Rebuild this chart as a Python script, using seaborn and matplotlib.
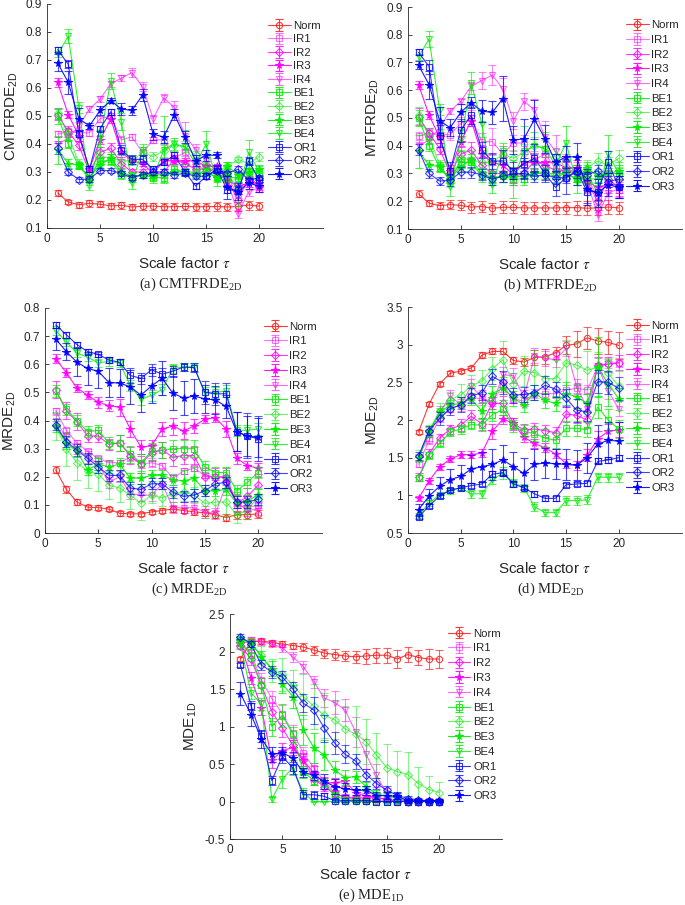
import numpy as np
import pandas as pd
import matplotlib
matplotlib.use("Agg")
import matplotlib.pyplot as plt
import seaborn as sns

sns.set_style("ticks")
plt.rcParams["font.family"] = ["Liberation Sans", "DejaVu Sans"]
plt.rcParams["mathtext.fontset"] = "stix"

# ---------------- data ----------------
scales = list(range(1, 21))
series_names = ["Norm", "IR1", "IR2", "IR3", "IR4", "BE1", "BE2", "BE3", "BE4", "OR1", "OR2", "OR3"]
series_colors = ["#FF1a1a", "#FF00FF", "#FF00FF", "#FF00FF", "#FF00FF",
                 "#00EE00", "#00EE00", "#00EE00", "#00EE00", "#0000FF", "#0000FF", "#0000FF"]
series_markers = ["o", "s", "D", "*", "v", "s", "D", "*", "v", "s", "D", "*"]
series_alpha = [0.85, 0.55, 0.8, 0.9, 0.6, 0.85, 0.6, 0.9, 0.8, 0.8, 0.75, 0.9]

xtick_values = [0, 5, 10, 15, 20]
xtick_labels = ["0", "5", "10", "15", "20"]

# (a) CMTFRDE_2D
cmtfrde_mean = {
    "Norm": [0.225, 0.193, 0.183, 0.188, 0.185, 0.179, 0.181, 0.175, 0.178, 0.178, 0.176, 0.176, 0.177, 0.176, 0.176, 0.177, 0.175, 0.177, 0.182, 0.178],
    "IR1": [0.435, 0.445, 0.44, 0.44, 0.49, 0.50, 0.415, 0.425, 0.37, 0.415, 0.415, 0.35, 0.37, 0.32, 0.31, 0.31, 0.28, 0.22, 0.27, 0.24],
    "IR2": [0.505, 0.445, 0.395, 0.30, 0.37, 0.385, 0.33, 0.30, 0.30, 0.29, 0.30, 0.345, 0.33, 0.31, 0.31, 0.30, 0.27, 0.20, 0.28, 0.25],
    "IR3": [0.62, 0.505, 0.43, 0.31, 0.415, 0.49, 0.37, 0.34, 0.33, 0.295, 0.34, 0.34, 0.34, 0.34, 0.32, 0.32, 0.27, 0.25, 0.26, 0.26],
    "IR4": [0.40, 0.42, 0.465, 0.525, 0.56, 0.615, 0.635, 0.655, 0.605, 0.49, 0.565, 0.53, 0.43, 0.38, 0.34, 0.30, 0.27, 0.15, 0.23, 0.245],
    "BE1": [0.50, 0.40, 0.32, 0.28, 0.34, 0.34, 0.29, 0.28, 0.29, 0.28, 0.28, 0.31, 0.30, 0.30, 0.30, 0.28, 0.28, 0.28, 0.30, 0.30],
    "BE2": [0.51, 0.435, 0.33, 0.27, 0.355, 0.35, 0.34, 0.34, 0.37, 0.355, 0.375, 0.395, 0.39, 0.36, 0.32, 0.30, 0.32, 0.345, 0.33, 0.355],
    "BE3": [0.38, 0.33, 0.325, 0.28, 0.325, 0.35, 0.30, 0.285, 0.29, 0.29, 0.29, 0.30, 0.30, 0.29, 0.30, 0.28, 0.32, 0.29, 0.30, 0.31],
    "BE4": [0.72, 0.785, 0.53, 0.25, 0.42, 0.625, 0.48, 0.26, 0.38, 0.28, 0.38, 0.40, 0.39, 0.33, 0.40, 0.27, 0.30, 0.23, 0.37, 0.30],
    "OR1": [0.737, 0.685, 0.435, 0.31, 0.455, 0.515, 0.38, 0.345, 0.345, 0.31, 0.335, 0.36, 0.30, 0.25, 0.285, 0.31, 0.235, 0.235, 0.34, 0.27],
    "OR2": [0.385, 0.30, 0.273, 0.275, 0.305, 0.305, 0.295, 0.28, 0.29, 0.30, 0.30, 0.29, 0.295, 0.285, 0.285, 0.305, 0.295, 0.31, 0.27, 0.28],
    "OR3": [0.69, 0.62, 0.49, 0.465, 0.52, 0.555, 0.525, 0.52, 0.575, 0.435, 0.425, 0.505, 0.425, 0.34, 0.36, 0.36, 0.245, 0.23, 0.26, 0.25],
}
cmtfrde_err = {
    "Norm": [0.012, 0.008, 0.01, 0.012, 0.01, 0.012, 0.012, 0.012, 0.012, 0.012, 0.012, 0.013, 0.014, 0.014, 0.014, 0.015, 0.016, 0.016, 0.016, 0.014],
    "IR1": [0.01, 0.01, 0.01, 0.01, 0.01, 0.012, 0.012, 0.01, 0.01, 0.01, 0.015, 0.012, 0.012, 0.012, 0.012, 0.012, 0.012, 0.012, 0.012, 0.012],
    "IR2": [0.02, 0.02, 0.015, 0.01, 0.02, 0.02, 0.015, 0.01, 0.01, 0.01, 0.01, 0.01, 0.01, 0.01, 0.015, 0.015, 0.015, 0.02, 0.015, 0.015],
    "IR3": [0.015, 0.012, 0.02, 0.01, 0.015, 0.015, 0.015, 0.01, 0.01, 0.01, 0.01, 0.01, 0.01, 0.01, 0.01, 0.01, 0.015, 0.015, 0.015, 0.015],
    "IR4": [0.01, 0.01, 0.015, 0.01, 0.01, 0.01, 0.01, 0.015, 0.015, 0.015, 0.015, 0.025, 0.05, 0.02, 0.015, 0.015, 0.02, 0.015, 0.015, 0.015],
    "BE1": [0.03, 0.015, 0.01, 0.01, 0.015, 0.015, 0.015, 0.015, 0.01, 0.01, 0.015, 0.015, 0.015, 0.01, 0.01, 0.015, 0.015, 0.015, 0.015, 0.015],
    "BE2": [0.02, 0.02, 0.015, 0.015, 0.02, 0.02, 0.02, 0.015, 0.02, 0.015, 0.02, 0.02, 0.02, 0.015, 0.015, 0.015, 0.015, 0.01, 0.015, 0.015],
    "BE3": [0.05, 0.015, 0.01, 0.01, 0.015, 0.015, 0.01, 0.015, 0.01, 0.01, 0.01, 0.01, 0.01, 0.01, 0.015, 0.01, 0.015, 0.015, 0.015, 0.015],
    "BE4": [0.01, 0.025, 0.02, 0.015, 0.03, 0.03, 0.03, 0.02, 0.02, 0.02, 0.12, 0.02, 0.06, 0.02, 0.045, 0.02, 0.02, 0.05, 0.045, 0.02],
    "OR1": [0.01, 0.015, 0.01, 0.01, 0.01, 0.01, 0.015, 0.015, 0.015, 0.01, 0.01, 0.01, 0.01, 0.01, 0.01, 0.015, 0.01, 0.015, 0.015, 0.015],
    "OR2": [0.02, 0.01, 0.01, 0.01, 0.01, 0.01, 0.01, 0.01, 0.01, 0.01, 0.01, 0.01, 0.01, 0.01, 0.01, 0.01, 0.01, 0.01, 0.01, 0.01],
    "OR3": [0.03, 0.04, 0.04, 0.01, 0.015, 0.01, 0.02, 0.015, 0.02, 0.02, 0.02, 0.02, 0.02, 0.02, 0.02, 0.01, 0.04, 0.03, 0.02, 0.02],
}

# (b) MTFRDE_2D
mtfrde_mean = {
    "Norm": [0.227, 0.193, 0.184, 0.188, 0.185, 0.179, 0.181, 0.175, 0.178, 0.178, 0.176, 0.176, 0.176, 0.176, 0.177, 0.177, 0.175, 0.176, 0.179, 0.176],
    "IR1": [0.435, 0.445, 0.44, 0.44, 0.48, 0.50, 0.415, 0.415, 0.37, 0.41, 0.41, 0.35, 0.37, 0.32, 0.31, 0.31, 0.28, 0.22, 0.27, 0.24],
    "IR2": [0.505, 0.445, 0.39, 0.30, 0.37, 0.385, 0.33, 0.30, 0.30, 0.29, 0.30, 0.345, 0.33, 0.31, 0.31, 0.30, 0.27, 0.20, 0.28, 0.25],
    "IR3": [0.62, 0.51, 0.43, 0.31, 0.415, 0.49, 0.37, 0.34, 0.33, 0.295, 0.34, 0.34, 0.34, 0.34, 0.32, 0.32, 0.27, 0.25, 0.26, 0.26],
    "IR4": [0.40, 0.42, 0.465, 0.525, 0.56, 0.615, 0.635, 0.655, 0.605, 0.49, 0.56, 0.53, 0.43, 0.38, 0.34, 0.30, 0.27, 0.15, 0.23, 0.245],
    "BE1": [0.50, 0.40, 0.32, 0.28, 0.34, 0.34, 0.29, 0.28, 0.29, 0.28, 0.28, 0.31, 0.30, 0.30, 0.30, 0.28, 0.28, 0.28, 0.30, 0.30],
    "BE2": [0.51, 0.435, 0.33, 0.27, 0.355, 0.35, 0.34, 0.34, 0.37, 0.355, 0.375, 0.40, 0.39, 0.36, 0.32, 0.30, 0.32, 0.345, 0.33, 0.355],
    "BE3": [0.38, 0.33, 0.325, 0.28, 0.325, 0.35, 0.30, 0.285, 0.29, 0.29, 0.29, 0.30, 0.30, 0.29, 0.30, 0.28, 0.32, 0.29, 0.30, 0.31],
    "BE4": [0.72, 0.785, 0.53, 0.25, 0.42, 0.625, 0.48, 0.26, 0.38, 0.28, 0.38, 0.40, 0.39, 0.33, 0.41, 0.27, 0.30, 0.23, 0.37, 0.30],
    "OR1": [0.737, 0.685, 0.435, 0.31, 0.455, 0.51, 0.385, 0.345, 0.345, 0.31, 0.335, 0.355, 0.30, 0.25, 0.285, 0.31, 0.235, 0.235, 0.34, 0.25],
    "OR2": [0.385, 0.30, 0.273, 0.275, 0.305, 0.305, 0.295, 0.28, 0.29, 0.30, 0.30, 0.29, 0.295, 0.285, 0.285, 0.305, 0.295, 0.31, 0.27, 0.28],
    "OR3": [0.69, 0.62, 0.49, 0.465, 0.52, 0.555, 0.525, 0.52, 0.57, 0.42, 0.425, 0.495, 0.425, 0.34, 0.36, 0.36, 0.245, 0.23, 0.26, 0.25],
}
mtfrde_err = {
    "Norm": [0.012, 0.01, 0.012, 0.015, 0.018, 0.02, 0.02, 0.02, 0.022, 0.022, 0.022, 0.022, 0.022, 0.022, 0.022, 0.025, 0.025, 0.025, 0.025, 0.022],
    "IR1": [0.015, 0.015, 0.02, 0.02, 0.025, 0.03, 0.03, 0.05, 0.03, 0.03, 0.03, 0.03, 0.03, 0.03, 0.03, 0.03, 0.03, 0.03, 0.03, 0.03],
    "IR2": [0.03, 0.02, 0.02, 0.02, 0.03, 0.03, 0.03, 0.03, 0.03, 0.03, 0.03, 0.03, 0.03, 0.03, 0.03, 0.03, 0.03, 0.03, 0.03, 0.03],
    "IR3": [0.015, 0.015, 0.02, 0.02, 0.02, 0.02, 0.03, 0.03, 0.03, 0.03, 0.03, 0.03, 0.03, 0.03, 0.03, 0.03, 0.03, 0.03, 0.03, 0.03],
    "IR4": [0.015, 0.015, 0.02, 0.01, 0.01, 0.015, 0.03, 0.035, 0.04, 0.03, 0.03, 0.04, 0.06, 0.06, 0.03, 0.03, 0.04, 0.02, 0.04, 0.03],
    "BE1": [0.03, 0.02, 0.015, 0.015, 0.02, 0.02, 0.02, 0.02, 0.02, 0.02, 0.02, 0.02, 0.02, 0.02, 0.02, 0.02, 0.02, 0.02, 0.02, 0.02],
    "BE2": [0.03, 0.03, 0.02, 0.02, 0.03, 0.03, 0.03, 0.03, 0.03, 0.03, 0.03, 0.03, 0.03, 0.03, 0.03, 0.03, 0.03, 0.03, 0.03, 0.03],
    "BE3": [0.06, 0.02, 0.015, 0.015, 0.02, 0.02, 0.02, 0.02, 0.02, 0.02, 0.02, 0.02, 0.02, 0.02, 0.02, 0.02, 0.02, 0.02, 0.02, 0.02],
    "BE4": [0.01, 0.03, 0.02, 0.03, 0.04, 0.04, 0.05, 0.03, 0.03, 0.07, 0.09, 0.05, 0.06, 0.04, 0.06, 0.04, 0.03, 0.05, 0.07, 0.04],
    "OR1": [0.01, 0.025, 0.04, 0.03, 0.04, 0.03, 0.03, 0.03, 0.04, 0.03, 0.05, 0.05, 0.03, 0.03, 0.06, 0.05, 0.04, 0.03, 0.04, 0.04],
    "OR2": [0.02, 0.015, 0.015, 0.02, 0.02, 0.02, 0.02, 0.02, 0.02, 0.02, 0.02, 0.02, 0.02, 0.02, 0.02, 0.02, 0.02, 0.02, 0.02, 0.02],
    "OR3": [0.015, 0.05, 0.05, 0.03, 0.03, 0.02, 0.04, 0.04, 0.08, 0.05, 0.07, 0.07, 0.05, 0.03, 0.04, 0.05, 0.06, 0.05, 0.04, 0.04],
}

# (c) MRDE_2D
mrde_mean = {
    "Norm": [0.225, 0.155, 0.11, 0.092, 0.09, 0.085, 0.07, 0.068, 0.068, 0.075, 0.08, 0.085, 0.08, 0.075, 0.072, 0.065, 0.055, 0.065, 0.065, 0.068],
    "IR1": [0.435, 0.365, 0.32, 0.29, 0.265, 0.25, 0.25, 0.27, 0.245, 0.25, 0.24, 0.195, 0.22, 0.23, 0.205, 0.20, 0.195, 0.10, 0.09, 0.10],
    "IR2": [0.51, 0.435, 0.395, 0.345, 0.345, 0.315, 0.32, 0.275, 0.245, 0.285, 0.295, 0.27, 0.275, 0.275, 0.20, 0.20, 0.20, 0.105, 0.13, 0.17],
    "IR3": [0.62, 0.57, 0.515, 0.49, 0.465, 0.453, 0.447, 0.37, 0.305, 0.31, 0.37, 0.38, 0.363, 0.38, 0.405, 0.41, 0.37, 0.265, 0.24, 0.23],
    "IR4": [0.40, 0.34, 0.30, 0.27, 0.245, 0.18, 0.20, 0.14, 0.135, 0.135, 0.175, 0.09, 0.09, 0.09, 0.075, 0.07, 0.17, 0.11, 0.08, 0.085],
    "BE1": [0.505, 0.44, 0.40, 0.36, 0.365, 0.32, 0.32, 0.28, 0.25, 0.29, 0.295, 0.30, 0.30, 0.30, 0.235, 0.215, 0.215, 0.15, 0.18, 0.215],
    "BE2": [0.38, 0.30, 0.25, 0.22, 0.21, 0.17, 0.16, 0.135, 0.105, 0.135, 0.125, 0.14, 0.145, 0.135, 0.105, 0.11, 0.11, 0.065, 0.08, 0.13],
    "BE3": [0.38, 0.32, 0.29, 0.225, 0.245, 0.235, 0.245, 0.195, 0.195, 0.205, 0.205, 0.19, 0.185, 0.195, 0.15, 0.15, 0.155, 0.105, 0.115, 0.135],
    "BE4": [0.72, 0.68, 0.64, 0.625, 0.605, 0.61, 0.605, 0.525, 0.475, 0.49, 0.51, 0.585, 0.59, 0.59, 0.50, 0.50, 0.505, 0.365, 0.365, 0.37],
    "OR1": [0.74, 0.705, 0.67, 0.645, 0.635, 0.615, 0.607, 0.56, 0.55, 0.58, 0.565, 0.575, 0.59, 0.588, 0.50, 0.495, 0.495, 0.36, 0.345, 0.335],
    "OR2": [0.385, 0.325, 0.295, 0.265, 0.235, 0.205, 0.205, 0.16, 0.155, 0.175, 0.175, 0.145, 0.13, 0.135, 0.15, 0.175, 0.18, 0.11, 0.11, 0.12],
    "OR3": [0.69, 0.645, 0.607, 0.585, 0.575, 0.535, 0.533, 0.52, 0.49, 0.523, 0.55, 0.497, 0.48, 0.487, 0.477, 0.473, 0.45, 0.36, 0.345, 0.34],
}
mrde_err = {
    "Norm": [0.012, 0.012, 0.01, 0.008, 0.008, 0.008, 0.008, 0.008, 0.008, 0.008, 0.008, 0.01, 0.01, 0.01, 0.012, 0.012, 0.012, 0.015, 0.015, 0.015],
    "IR1": [0.01, 0.01, 0.01, 0.01, 0.01, 0.01, 0.01, 0.015, 0.015, 0.015, 0.01, 0.01, 0.01, 0.01, 0.01, 0.01, 0.01, 0.01, 0.01, 0.01],
    "IR2": [0.03, 0.03, 0.03, 0.02, 0.02, 0.02, 0.03, 0.03, 0.03, 0.03, 0.03, 0.03, 0.03, 0.03, 0.03, 0.03, 0.03, 0.03, 0.03, 0.03],
    "IR3": [0.015, 0.015, 0.015, 0.015, 0.02, 0.02, 0.03, 0.03, 0.025, 0.02, 0.025, 0.03, 0.03, 0.025, 0.015, 0.015, 0.03, 0.02, 0.015, 0.02],
    "IR4": [0.02, 0.02, 0.02, 0.02, 0.02, 0.02, 0.02, 0.02, 0.02, 0.02, 0.02, 0.02, 0.02, 0.02, 0.02, 0.02, 0.02, 0.02, 0.02, 0.02],
    "BE1": [0.02, 0.02, 0.02, 0.02, 0.02, 0.02, 0.03, 0.03, 0.03, 0.03, 0.03, 0.03, 0.03, 0.03, 0.02, 0.02, 0.02, 0.02, 0.02, 0.02],
    "BE2": [0.05, 0.06, 0.06, 0.06, 0.06, 0.05, 0.05, 0.05, 0.06, 0.03, 0.03, 0.03, 0.03, 0.03, 0.05, 0.05, 0.05, 0.03, 0.03, 0.03],
    "BE3": [0.02, 0.02, 0.02, 0.02, 0.02, 0.02, 0.02, 0.02, 0.02, 0.02, 0.02, 0.02, 0.04, 0.04, 0.02, 0.02, 0.02, 0.04, 0.02, 0.02],
    "BE4": [0.015, 0.015, 0.015, 0.015, 0.015, 0.015, 0.015, 0.02, 0.02, 0.02, 0.02, 0.015, 0.015, 0.015, 0.02, 0.02, 0.02, 0.02, 0.02, 0.02],
    "OR1": [0.01, 0.01, 0.01, 0.01, 0.01, 0.01, 0.01, 0.025, 0.02, 0.02, 0.02, 0.02, 0.015, 0.015, 0.04, 0.04, 0.04, 0.07, 0.08, 0.08],
    "OR2": [0.02, 0.02, 0.02, 0.02, 0.02, 0.02, 0.02, 0.02, 0.02, 0.02, 0.02, 0.02, 0.02, 0.02, 0.02, 0.02, 0.02, 0.02, 0.02, 0.02],
    "OR3": [0.04, 0.03, 0.05, 0.06, 0.06, 0.05, 0.05, 0.06, 0.06, 0.06, 0.06, 0.06, 0.06, 0.06, 0.05, 0.05, 0.04, 0.07, 0.07, 0.07],
}

# (d) MDE_2D
mde2d_mean = {
    "Norm": [1.84, 2.21, 2.48, 2.62, 2.65, 2.69, 2.86, 2.91, 2.91, 2.79, 2.77, 2.83, 2.84, 2.89, 2.99, 3.01, 3.09, 3.05, 3.03, 2.99],
    "IR1": [1.41, 1.73, 2.03, 2.15, 2.20, 2.30, 2.28, 2.25, 2.45, 2.28, 2.25, 2.35, 2.35, 2.35, 2.40, 2.42, 2.40, 2.70, 2.75, 2.76],
    "IR2": [1.24, 1.55, 1.76, 1.88, 1.93, 2.05, 1.95, 2.22, 2.22, 1.95, 1.87, 1.88, 1.86, 1.83, 2.08, 2.06, 2.00, 2.73, 2.74, 2.76],
    "IR3": [0.96, 1.19, 1.38, 1.48, 1.54, 1.54, 1.56, 1.85, 2.01, 1.96, 1.77, 1.69, 1.63, 1.55, 1.42, 1.40, 1.53, 1.75, 1.85, 1.87],
    "IR4": [1.50, 1.80, 2.10, 2.32, 2.20, 2.45, 2.30, 2.20, 2.60, 2.59, 2.30, 2.85, 2.82, 2.80, 2.95, 2.45, 2.15, 2.72, 2.38, 2.15],
    "BE1": [1.23, 1.53, 1.69, 1.84, 1.88, 1.94, 1.93, 2.07, 2.14, 1.92, 1.85, 1.82, 1.76, 1.73, 1.89, 1.89, 1.87, 2.17, 2.00, 1.88],
    "BE2": [1.52, 1.86, 2.12, 2.27, 2.33, 2.45, 2.52, 2.68, 2.80, 2.48, 2.65, 2.63, 2.55, 2.55, 2.76, 2.73, 2.66, 2.70, 2.62, 2.45],
    "BE3": [1.50, 1.85, 2.10, 2.20, 2.22, 2.28, 2.12, 2.35, 2.42, 2.29, 2.20, 2.36, 2.26, 2.22, 2.35, 2.31, 2.22, 2.70, 2.48, 2.28],
    "BE4": [0.73, 0.90, 1.01, 1.06, 1.10, 1.02, 1.02, 1.20, 1.30, 1.17, 1.10, 0.85, 0.77, 0.77, 0.93, 0.93, 0.94, 1.24, 1.24, 1.24],
    "OR1": [0.71, 0.86, 0.99, 1.07, 1.10, 1.13, 1.15, 1.28, 1.30, 1.15, 1.10, 1.02, 0.96, 0.96, 1.14, 1.15, 1.16, 1.45, 1.47, 1.50],
    "OR2": [1.52, 1.86, 2.02, 2.15, 2.20, 2.32, 2.36, 2.58, 2.50, 2.33, 2.34, 2.36, 2.46, 2.41, 2.29, 2.13, 2.11, 2.51, 2.50, 2.42],
    "OR3": [0.81, 0.99, 1.12, 1.21, 1.25, 1.35, 1.38, 1.41, 1.47, 1.38, 1.29, 1.41, 1.43, 1.42, 1.41, 1.40, 1.50, 1.68, 1.73, 1.72],
}
mde2d_err = {
    "Norm": [0.03, 0.03, 0.03, 0.03, 0.03, 0.03, 0.04, 0.04, 0.04, 0.05, 0.05, 0.1, 0.1, 0.08, 0.12, 0.17, 0.15, 0.17, 0.15, 0.18],
    "IR1": [0.04, 0.05, 0.05, 0.05, 0.05, 0.06, 0.06, 0.06, 0.08, 0.06, 0.06, 0.06, 0.06, 0.06, 0.06, 0.06, 0.06, 0.06, 0.06, 0.06],
    "IR2": [0.05, 0.06, 0.06, 0.06, 0.08, 0.08, 0.08, 0.08, 0.1, 0.08, 0.08, 0.08, 0.08, 0.08, 0.1, 0.1, 0.1, 0.1, 0.1, 0.1],
    "IR3": [0.03, 0.04, 0.04, 0.04, 0.05, 0.05, 0.05, 0.1, 0.06, 0.06, 0.06, 0.06, 0.06, 0.06, 0.06, 0.06, 0.08, 0.1, 0.1, 0.1],
    "IR4": [0.05, 0.08, 0.08, 0.08, 0.08, 0.1, 0.1, 0.1, 0.1, 0.1, 0.1, 0.1, 0.1, 0.1, 0.1, 0.1, 0.1, 0.1, 0.1, 0.1],
    "BE1": [0.04, 0.05, 0.05, 0.05, 0.06, 0.06, 0.08, 0.08, 0.08, 0.08, 0.08, 0.1, 0.12, 0.1, 0.1, 0.1, 0.1, 0.15, 0.15, 0.12],
    "BE2": [0.08, 0.08, 0.1, 0.1, 0.15, 0.15, 0.15, 0.15, 0.25, 0.15, 0.2, 0.3, 0.3, 0.25, 0.3, 0.3, 0.25, 0.2, 0.2, 0.2],
    "BE3": [0.04, 0.06, 0.06, 0.06, 0.08, 0.08, 0.1, 0.1, 0.15, 0.1, 0.1, 0.1, 0.1, 0.1, 0.15, 0.15, 0.12, 0.4, 0.3, 0.15],
    "BE4": [0.03, 0.04, 0.04, 0.04, 0.04, 0.05, 0.05, 0.05, 0.08, 0.05, 0.05, 0.06, 0.05, 0.05, 0.06, 0.06, 0.06, 0.06, 0.06, 0.06],
    "OR1": [0.03, 0.03, 0.03, 0.03, 0.03, 0.03, 0.03, 0.04, 0.05, 0.04, 0.03, 0.04, 0.03, 0.03, 0.03, 0.03, 0.03, 0.04, 0.04, 0.04],
    "OR2": [0.05, 0.06, 0.08, 0.08, 0.1, 0.1, 0.1, 0.1, 0.15, 0.1, 0.1, 0.1, 0.12, 0.1, 0.12, 0.15, 0.12, 0.15, 0.15, 0.15],
    "OR3": [0.08, 0.1, 0.12, 0.14, 0.15, 0.18, 0.2, 0.2, 0.2, 0.2, 0.2, 0.2, 0.2, 0.2, 0.2, 0.2, 0.2, 0.25, 0.25, 0.25],
}

# (e) MDE_1D
mde1d_mean = {
    "Norm": [1.90, 2.13, 2.14, 2.12, 2.10, 2.08, 2.06, 2.02, 1.98, 1.96, 1.94, 1.93, 1.94, 1.95, 1.95, 1.90, 1.96, 1.92, 1.90, 1.90],
    "IR1": [2.13, 1.98, 1.62, 1.37, 1.17, 0.92, 0.65, 0.45, 0.27, 0.12, 0.05, 0.03, 0.02, 0.01, 0.01, 0.0, 0.0, 0.0, 0.0, 0.0],
    "IR2": [2.08, 1.90, 1.55, 1.20, 0.98, 0.75, 0.55, 0.30, 0.20, 0.10, 0.06, 0.05, 0.05, 0.05, 0.03, 0.01, 0.0, 0.0, 0.0, 0.0],
    "IR3": [2.12, 1.65, 1.25, 0.55, 0.68, 0.72, 0.55, 0.38, 0.25, 0.25, 0.27, 0.12, 0.07, 0.06, 0.02, 0.01, 0.0, 0.0, 0.0, 0.0],
    "IR4": [2.10, 2.15, 2.13, 2.10, 2.05, 1.93, 1.80, 1.60, 1.38, 1.32, 1.22, 0.93, 0.63, 0.35, 0.10, 0.03, 0.01, 0.01, 0.01, 0.01],
    "BE1": [2.12, 1.95, 1.55, 1.00, 1.15, 0.90, 0.40, 0.28, 0.25, 0.08, 0.02, 0.02, 0.01, 0.0, 0.0, 0.0, 0.0, 0.0, 0.0, 0.0],
    "BE2": [2.15, 2.10, 1.95, 1.75, 1.70, 1.55, 1.40, 1.27, 1.15, 1.09, 0.97, 0.90, 0.80, 0.62, 0.45, 0.40, 0.36, 0.24, 0.16, 0.12],
    "BE3": [2.18, 2.12, 1.93, 1.77, 1.57, 1.40, 0.96, 0.72, 0.62, 0.42, 0.32, 0.33, 0.20, 0.10, 0.07, 0.05, 0.02, 0.01, 0.01, 0.01],
    "BE4": [2.10, 1.45, 1.30, 0.03, 0.30, 0.45, 0.12, 0.0, 0.0, 0.0, 0.0, 0.0, 0.0, 0.0, 0.0, 0.0, 0.0, 0.0, 0.0, 0.0],
    "OR1": [1.82, 1.28, 0.87, 0.28, 0.60, 0.45, 0.09, 0.09, 0.07, 0.01, 0.01, 0.01, 0.01, 0.0, 0.0, 0.0, 0.0, 0.0, 0.0, 0.0],
    "OR2": [2.20, 2.10, 1.82, 1.73, 1.66, 1.50, 1.31, 1.22, 0.98, 0.78, 0.63, 0.54, 0.36, 0.24, 0.15, 0.08, 0.04, 0.02, 0.01, 0.01],
    "OR3": [1.44, 1.16, 0.84, 0.63, 0.65, 0.58, 0.39, 0.35, 0.27, 0.20, 0.17, 0.15, 0.15, 0.08, 0.08, 0.07, 0.01, 0.01, 0.01, 0.01],
}
mde1d_err = {
    "Norm": [0.03, 0.04, 0.04, 0.04, 0.04, 0.04, 0.05, 0.06, 0.06, 0.07, 0.07, 0.08, 0.1, 0.1, 0.1, 0.12, 0.1, 0.1, 0.13, 0.12],
    "IR1": [0.04, 0.06, 0.1, 0.1, 0.12, 0.1, 0.08, 0.06, 0.05, 0.04, 0.03, 0.02, 0.02, 0.01, 0.01, 0.01, 0.01, 0.01, 0.01, 0.01],
    "IR2": [0.04, 0.08, 0.1, 0.12, 0.12, 0.1, 0.08, 0.08, 0.06, 0.04, 0.04, 0.04, 0.04, 0.04, 0.03, 0.02, 0.01, 0.01, 0.01, 0.01],
    "IR3": [0.03, 0.08, 0.1, 0.1, 0.1, 0.1, 0.1, 0.1, 0.08, 0.06, 0.06, 0.05, 0.05, 0.04, 0.03, 0.01, 0.01, 0.01, 0.01, 0.01],
    "IR4": [0.03, 0.04, 0.04, 0.04, 0.05, 0.07, 0.08, 0.08, 0.12, 0.15, 0.15, 0.2, 0.2, 0.15, 0.08, 0.05, 0.02, 0.01, 0.01, 0.01],
    "BE1": [0.05, 0.08, 0.1, 0.12, 0.15, 0.1, 0.08, 0.06, 0.06, 0.05, 0.02, 0.02, 0.01, 0.01, 0.01, 0.01, 0.01, 0.01, 0.01, 0.01],
    "BE2": [0.04, 0.06, 0.12, 0.15, 0.22, 0.2, 0.3, 0.3, 0.3, 0.25, 0.3, 0.38, 0.3, 0.3, 0.32, 0.27, 0.3, 0.22, 0.18, 0.14],
    "BE3": [0.03, 0.06, 0.08, 0.1, 0.12, 0.15, 0.2, 0.2, 0.2, 0.12, 0.1, 0.08, 0.06, 0.05, 0.04, 0.03, 0.02, 0.01, 0.01, 0.01],
    "BE4": [0.05, 0.08, 0.08, 0.03, 0.12, 0.1, 0.06, 0.01, 0.01, 0.01, 0.01, 0.01, 0.01, 0.01, 0.01, 0.01, 0.01, 0.01, 0.01, 0.01],
    "OR1": [0.03, 0.06, 0.07, 0.06, 0.08, 0.08, 0.06, 0.05, 0.04, 0.02, 0.01, 0.01, 0.01, 0.01, 0.01, 0.01, 0.01, 0.01, 0.01, 0.01],
    "OR2": [0.03, 0.04, 0.07, 0.08, 0.08, 0.1, 0.12, 0.18, 0.18, 0.15, 0.12, 0.1, 0.08, 0.07, 0.06, 0.05, 0.04, 0.03, 0.02, 0.02],
    "OR3": [0.15, 0.15, 0.12, 0.1, 0.08, 0.08, 0.06, 0.06, 0.1, 0.1, 0.08, 0.06, 0.06, 0.05, 0.05, 0.04, 0.03, 0.02, 0.02, 0.02],
}

# axis ticks per panel
a_yticks = [0.1, 0.2, 0.3, 0.4, 0.5, 0.6, 0.7, 0.8, 0.9]
a_yticklabels = ["0.1", "0.2", "0.3", "0.4", "0.5", "0.6", "0.7", "0.8", "0.9"]
c_yticks = [0, 0.1, 0.2, 0.3, 0.4, 0.5, 0.6, 0.7, 0.8]
c_yticklabels = ["0", "0.1", "0.2", "0.3", "0.4", "0.5", "0.6", "0.7", "0.8"]
d_yticks = [0.5, 1, 1.5, 2, 2.5, 3, 3.5]
d_yticklabels = ["0.5", "1", "1.5", "2", "2.5", "3", "3.5"]
e_yticks = [-0.5, 0, 0.5, 1, 1.5, 2, 2.5]
e_yticklabels = ["-0.5", "0", "0.5", "1", "1.5", "2", "2.5"]

# ---------------- figure ----------------
W, H = 685, 905
fig = plt.figure(figsize=(W / 100, H / 100), dpi=100)


def px_axes(left, top, right, bottom):
    return fig.add_axes([left / W, 1 - bottom / H, (right - left) / W, (bottom - top) / H])


def long_frame(means, errs):
    rows = []
    for name in series_names:
        for s, m, e in zip(scales, means[name], errs[name]):
            rows.append({"series": name, "scale": s, "value": m, "err": e})
    return pd.DataFrame(rows)


def draw_panel(ax, means, errs, yticks, yticklabels, ylabel, caption, legend_anchor, spacing):
    df = long_frame(means, errs)
    handles = []
    for name, col, mk, al in zip(series_names, series_colors, series_markers, series_alpha):
        sub = df[df["series"] == name]
        ax.errorbar(sub["scale"], sub["value"], yerr=sub["err"], fmt="none",
                    ecolor=col, alpha=al * 0.8, elinewidth=0.8, capsize=3, capthick=0.8)
        filled = mk == "*"
        ms = 5.5 if filled else 4.5
        sns.lineplot(data=sub, x="scale", y="value", ax=ax, color=col, marker=mk,
                     markersize=ms,
                     markerfacecolor=col if filled else "none",
                     markeredgecolor=col, markeredgewidth=0.8,
                     linewidth=0.8, alpha=al, errorbar=None, legend=False)
        h = ax.errorbar([np.nan], [np.nan], yerr=[np.nan], fmt="-" + mk, color=col,
                        alpha=al, lw=0.8, elinewidth=0.8, capsize=3, capthick=0.8,
                        markersize=ms,
                        markerfacecolor=col if filled else "none", markeredgewidth=0.8,
                        label=name)
        handles.append(h)
    ax.set_xlim(0, 26)
    ax.set_ylim(yticks[0], yticks[-1])
    ax.set_xticks(xtick_values, xtick_labels)
    ax.set_yticks(yticks, yticklabels)
    ax.tick_params(direction="in", length=3, width=0.6, labelsize=8.5, colors="#262626")
    for s in ["top", "right"]:
        ax.spines[s].set_visible(False)
    for s in ["left", "bottom"]:
        ax.spines[s].set_linewidth(0.6)
        ax.spines[s].set_color("#262626")
    ax.set_xlabel(r"Scale factor $\tau$", fontsize=11, labelpad=8)
    ax.set_ylabel(ylabel, fontsize=11, labelpad=4)
    ax.legend(handles=handles, labels=series_names, loc="upper left",
              bbox_to_anchor=legend_anchor, frameon=False, fontsize=8.2,
              handlelength=2.0, handletextpad=0.25, labelspacing=spacing,
              borderpad=0, borderaxespad=0)
    pos = ax.get_position()
    fig.text(pos.x0 + pos.width * 0.52, pos.y0 - 56 / H, caption, ha="center", va="center",
             fontsize=10.5, family=["Liberation Serif", "DejaVu Serif"])


ax_a = px_axes(47, 4, 323, 228)
draw_panel(ax_a, cmtfrde_mean, cmtfrde_err, a_yticks, a_yticklabels,
           r"CMTFRDE$_\mathregular{2D}$", r"(a) CMTFRDE$_\mathregular{2D}$", (0.80, 0.925), 0.31)
ax_b = px_axes(408, 7, 682, 229)
draw_panel(ax_b, mtfrde_mean, mtfrde_err, a_yticks, a_yticklabels,
           r"MTFRDE$_\mathregular{2D}$", r"(b) MTFRDE$_\mathregular{2D}$", (0.795, 0.94), 0.41)
ax_c = px_axes(45, 308, 322, 533)
draw_panel(ax_c, mrde_mean, mrde_err, c_yticks, c_yticklabels,
           r"MRDE$_\mathregular{2D}$", r"(c) MRDE$_\mathregular{2D}$", (0.79, 0.94), 0.42)
ax_d = px_axes(408, 307, 682, 533)
draw_panel(ax_d, mde2d_mean, mde2d_err, d_yticks, d_yticklabels,
           r"MDE$_\mathregular{2D}$", r"(d) MDE$_\mathregular{2D}$", (0.795, 0.94), 0.42)
ax_e = px_axes(230, 614, 502, 839)
draw_panel(ax_e, mde1d_mean, mde1d_err, e_yticks, e_yticklabels,
           r"MDE$_\mathregular{1D}$", r"(e) MDE$_\mathregular{1D}$", (0.80, 0.935), 0.42)

fig.savefig("out.png", dpi=100)
